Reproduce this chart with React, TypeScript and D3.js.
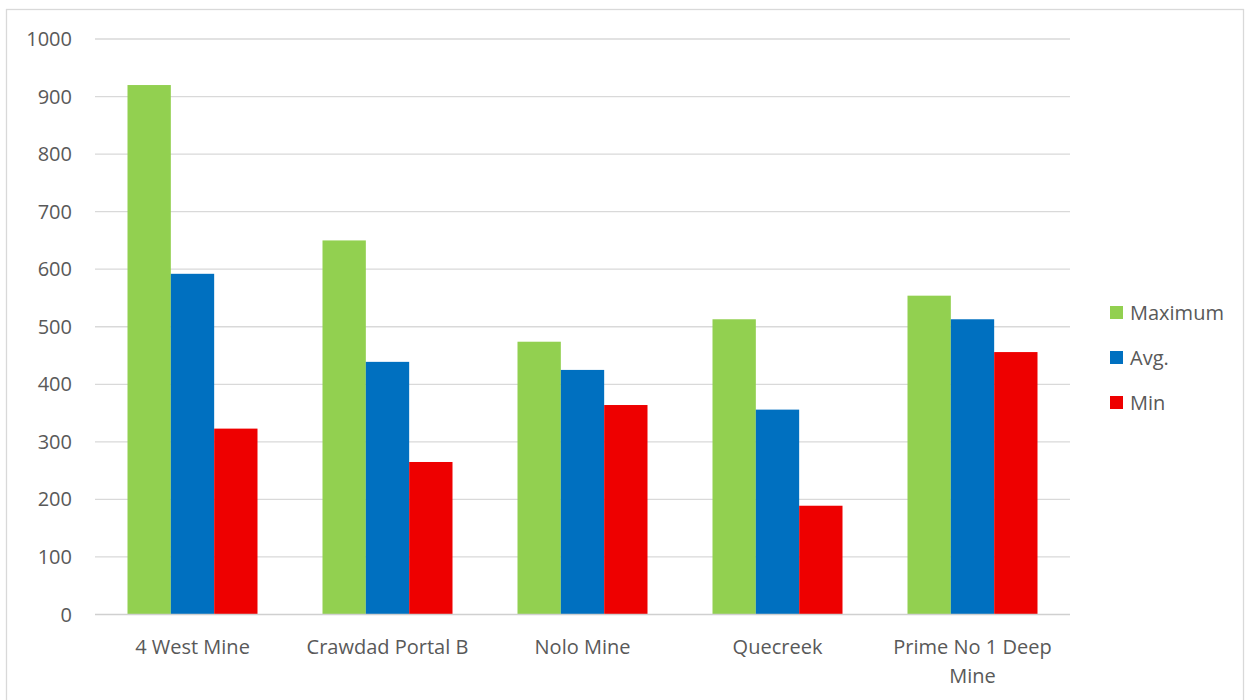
import React from "react";
import * as d3 from "d3";

const categories = ["4 West Mine", "Crawdad Portal B", "Nolo Mine", "Quecreek", "Prime No 1 Deep Mine"];
const categoryLines = [["4 West Mine"], ["Crawdad Portal B"], ["Nolo Mine"], ["Quecreek"], ["Prime No 1 Deep", "Mine"]];
const seriesNames = ["Maximum", "Avg.", "Min"];
const seriesColors = ["#92D050", "#0070C0", "#EE0000"];
const maximumValues = [920, 650, 474, 513, 554];
const avgValues = [592, 439, 425, 356, 513];
const minValues = [323, 265, 364, 189, 456];
const yTicks = [0, 100, 200, 300, 400, 500, 600, 700, 800, 900, 1000];

const seriesValues = [maximumValues, avgValues, minValues];

export default function App() {
  const W = 1250, H = 700;
  const left = 95, right = 1070, top = 39, bottom = 614.5;
  const x = d3.scaleBand<string>().domain(categories).range([left, right]).padding(0);
  const step = x.bandwidth();
  const inner = d3.scaleBand<string>().domain(seriesNames).range([step / 6, (step * 5) / 6]).padding(0);
  const y = d3.scaleLinear().domain([0, 1000]).range([bottom, top]);
  const font = "Open Sans, Liberation Sans, sans-serif";
  const textColor = "#595959";
  const fs = 20;

  return (
    <svg width={W} height={H} style={{ position: "absolute", left: 0, top: 0, background: "#fff" }} fontFamily={font}>
      <rect x={6.5} y={9.5} width={1237} height={700} fill="#fff" stroke="#d9d9d9" strokeWidth={1.3} />
      {yTicks.map((t) => (
        <g key={t}>
          {t !== 0 && (
            <line x1={left} x2={right} y1={y(t)} y2={y(t)} stroke="#d9d9d9" strokeWidth={1.3} />
          )}
          <text x={72} y={y(t)} dy="0.35em" textAnchor="end" fontSize={fs} fill={textColor}>
            {t}
          </text>
        </g>
      ))}
      {categories.map((c, ci) => (
        <g key={c}>
          {seriesNames.map((s, si) => (
            <rect
              key={s}
              x={(x(c) as number) + (inner(s) as number)}
              y={y(seriesValues[si][ci])}
              width={inner.bandwidth()}
              height={y(0) - y(seriesValues[si][ci])}
              fill={seriesColors[si]}
            />
          ))}
          {categoryLines[ci].map((ln, li) => (
            <text
              key={li}
              x={(x(c) as number) + step / 2}
              y={647 + li * 29}
              dy="0.35em"
              textAnchor="middle"
              fontSize={fs}
              fill={textColor}
            >
              {ln}
            </text>
          ))}
        </g>
      ))}
      <line x1={left} x2={right} y1={y(0)} y2={y(0)} stroke="#d0d0d0" strokeWidth={1.5} />
      {seriesNames.map((s, si) => (
        <g key={s}>
          <rect x={1110} y={306 + si * 45} width={13} height={13} fill={seriesColors[si]} />
          <text x={1130} y={312.5 + si * 45} dy="0.35em" fontSize={fs} fill={textColor}>
            {s}
          </text>
        </g>
      ))}
    </svg>
  );
}
